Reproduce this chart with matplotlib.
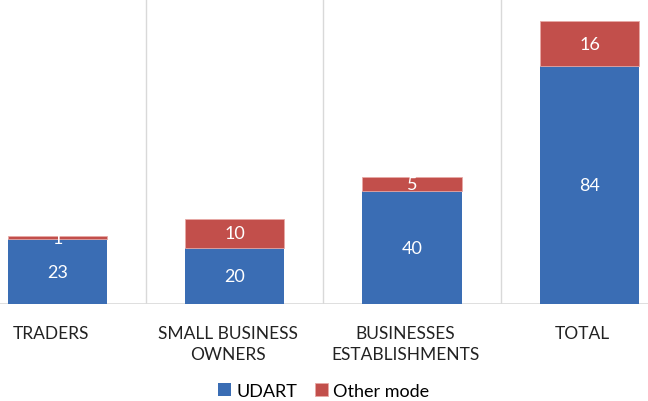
import matplotlib.pyplot as plt
import matplotlib.transforms as mtransforms
import numpy as np

plt.rcParams['font.family'] = ['Lato', 'DejaVu Sans']

categories = ['TRADERS', 'SMALL BUSINESS\nOWNERS', 'BUSINESSES\nESTABLISHMENTS', 'TOTAL']
udart = [23, 20, 40, 84]
other = [1, 10, 5, 16]

blue = '#3A6DB4'
red = '#C24F4B'

fig = plt.figure(figsize=(6.48, 4.02), dpi=100)
ax = fig.add_axes([0, 0.241, 1, 0.759])

x = np.arange(len(categories))
w = 0.56
b1 = ax.bar(x, udart, w, color=blue, label='UDART', zorder=3)
b2 = ax.bar(x, other, w, bottom=udart, color=red, label='Other mode', zorder=3,
            edgecolor='#E8A9A6', linewidth=0.6)

# value labels inside segments
for xi, u, o in zip(x, udart, other):
    ax.text(xi, u / 2, str(u), ha='center', va='center', color='white', fontsize=13, zorder=4)
    ax.text(xi, u + o / 2, str(o), ha='center', va='center', color='white', fontsize=13, zorder=4)

ax.set_xlim(-0.324, 3.33)
ax.set_ylim(0, 107.8)

# separators between categories
for sep in [-0.5, 0.5, 1.5, 2.5]:
    ax.axvline(sep, color='#D9D9D9', linewidth=1, zorder=1)
ax.axhline(0, color='#D9D9D9', linewidth=1.2, zorder=2)

for s in ax.spines.values():
    s.set_visible(False)
ax.set_yticks([])
ax.set_xticks(x)
ax.set_xticklabels(categories, fontsize=12.5, color='#222222', linespacing=1.4)
ax.tick_params(axis='x', length=0, pad=15)
shift = mtransforms.ScaledTranslation(-7 / 100, 0, fig.dpi_scale_trans)
for lbl in ax.get_xticklabels():
    lbl.set_transform(lbl.get_transform() + shift)

fig.legend(handles=[b1, b2], loc='lower center', bbox_to_anchor=(0.5, -0.035), ncol=2,
           frameon=False, fontsize=13, handlelength=0.7, handleheight=0.7,
           handletextpad=0.3, columnspacing=1.0)

plt.savefig('out.png', dpi=100)
plt.close()
